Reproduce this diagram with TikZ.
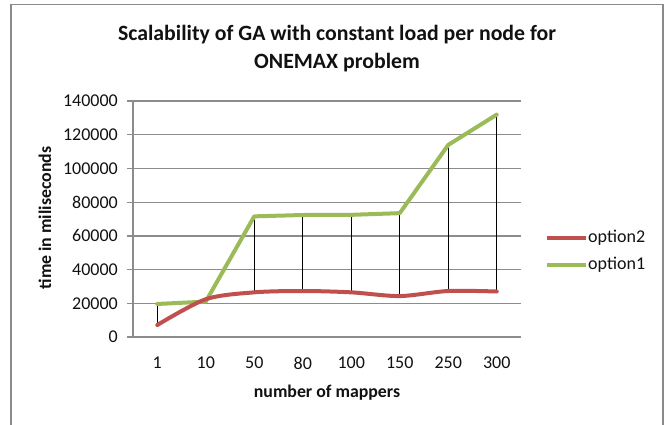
\documentclass[tikz,border=0pt]{standalone}
\usepackage{fontspec}
\setmainfont{Carlito}
\definecolor{serA}{HTML}{9BBB59}
\definecolor{serB}{HTML}{C0504D}
\definecolor{gridc}{HTML}{8C8C8C}
\definecolor{framec}{HTML}{8A8A8A}
\definecolor{txtc}{HTML}{111111}
\begin{document}
\begin{tikzpicture}[x=1pt,y=-1pt,
  ticklabel/.style={font=\fontsize{18}{20}\selectfont, text=txtc, inner sep=0pt},
  axtitle/.style={font=\fontsize{17.8}{20}\selectfont\bfseries, text=txtc, inner sep=0pt},
  gridline/.style={draw=gridc, line width=1.2pt},
  serline/.style={line width=4pt, line join=round, line cap=round},
  dropline/.style={draw=black, line width=1pt}]
\useasboundingbox (0,0) rectangle (667,425);
\clip (0,0) rectangle (667,425);
% chart frame (open at the bottom edge of the page)
\draw[framec, line width=1.6pt] (11,450) -- (11,4.5) -- (663,4.5) -- (663,450);
% title
\node[font=\fontsize{21.8}{28}\selectfont\bfseries, text=txtc, align=center] (title) at (337,49)
  {Scalability of GA with constant load per node for\\ONEMAX problem};
% gridlines with tick marks and value labels
\foreach \k/\val in {0/0,1/20000,2/40000,3/60000,4/80000,5/100000,6/120000,7/140000}{
  \pgfmathsetmacro{\yy}{337-33.7*\k}
  \draw[gridline] (127,\yy) -- (521,\yy);
  \node[ticklabel, anchor=east] (ylab\k) at (118,\yy) {\val};
}
\draw[gridline] (133,101) -- (133,337);
% category labels
\foreach \c [count=\i from 0] in {1,10,50,80,100,150,250,300}{
  \node[ticklabel] (xlab\i) at ({157.25+48.5*\i},363) {\c};
}
\node[axtitle] (xtitle) at (327,393) {number of mappers};
\node[axtitle, rotate=90] (ytitle) at (45,218) {time in miliseconds};
% data
\begin{scope}[shift={(133,337)}, x=48.5pt, y=1.685pt]
  \foreach \v [count=\i from 0] in {19.6,21.0,71.6,72.4,72.5,73.5,114.0,132.0}
    \coordinate (a\i) at ({\i+0.5},\v);
  \foreach \v [count=\i from 0] in {7.1,22.4,26.5,27.3,26.5,24.3,27.3,27.0}
    \coordinate (b\i) at ({\i+0.5},\v);
  \foreach \i in {0,...,7}
    \draw[dropline] (a\i) -- (b\i);
  \draw[serline, serA] (a0) -- (a1) -- (a2) -- (a3) -- (a4) -- (a5) -- (a6) -- (a7);
  \draw[serline, serB] plot[smooth, tension=0.5] coordinates
    {(b0) (b1) (b2) (b3) (b4) (b5) (b6) (b7)};
\end{scope}
% legend
\coordinate (l2s) at (547,238);
\coordinate (l2e) at (586,238);
\coordinate (l1s) at (547,265);
\coordinate (l1e) at (586,265);
\draw[serline, serB, line cap=butt] (l2s) -- (l2e);
\draw[serline, serA, line cap=butt] (l1s) -- (l1e);
\node[ticklabel, anchor=west] (leg2) at (588,238) {option2};
\node[ticklabel, anchor=west] (leg1) at (588,265) {option1};
\end{tikzpicture}
\end{document}
